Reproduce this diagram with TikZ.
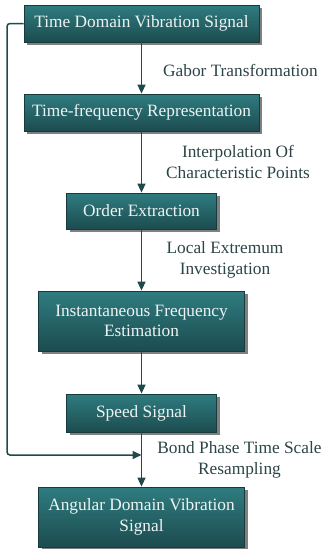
\documentclass[tikz,border=0pt]{standalone}
\usepackage{fontspec}
\setmainfont{Liberation Serif}
\usetikzlibrary{shadows,arrows.meta}
\definecolor{boxtop}{HTML}{2F7C80}
\definecolor{boxbot}{HTML}{1C4C4F}
\definecolor{boxedge}{HTML}{173A3C}
\definecolor{linec}{HTML}{1E4A4C}
\definecolor{labc}{HTML}{2B4446}
\definecolor{boxtext}{HTML}{EEF4F4}
\begin{document}
\begin{tikzpicture}[x=1pt,y=-1pt,
  font=\fontsize{17.3}{20.8}\selectfont,
  flowbox/.style={rectangle, draw=boxedge, line width=0.8pt,
    top color=boxtop, bottom color=boxbot, text=boxtext, align=center,
    inner sep=0pt,
    drop shadow={shadow xshift=3pt, shadow yshift=-3pt, fill=black!50, opacity=1}},
  conn/.style={draw=linec, line width=1.5pt, -{Triangle[length=9pt,width=8pt]}},
  lab/.style={text=labc, align=center, inner sep=0pt}]
\useasboundingbox (0,0) rectangle (323,549);
\node[flowbox, minimum width=235pt, minimum height=37pt] (b1) at (141.5,23.5) {Time Domain Vibration Signal};
\node[flowbox, minimum width=235pt, minimum height=37pt] (b2) at (141.5,112.5) {Time-frequency Representation};
\node[flowbox, minimum width=150pt, minimum height=36pt] (b3) at (141.5,211) {Order Extraction};
\node[flowbox, minimum width=206pt, minimum height=60pt] (b4) at (141.5,321) {Instantaneous Frequency\\Estimation};
\node[flowbox, minimum width=150pt, minimum height=38pt] (b5) at (141.5,413) {Speed Signal};
\node[flowbox, minimum width=206pt, minimum height=60pt] (b6) at (141.5,517) {Angular Domain Vibration\\Signal};
\draw[conn] (b1) -- (b2);
\draw[conn] (b2) -- (b3);
\draw[conn] (b3) -- (b4);
\draw[conn] (b4) -- (b5);
\draw[conn] (b5) -- (b6);
\coordinate (j) at (141.5,455);
\draw[conn, rounded corners=3pt] (b1.west) -- (7,23.5) -- (7,455) -- (j);
\node[lab, anchor=west] (l1) at (163,70) {Gabor Transformation};
\node[lab] (l2) at (238,162) {Interpolation Of\\Characteristic Points};
\node[lab] (l3) at (225,260) {Local Extremum\\Investigation};
\node[lab] (l4) at (239.5,460) {Bond Phase Time Scale\\Resampling};
\end{tikzpicture}
\end{document}
